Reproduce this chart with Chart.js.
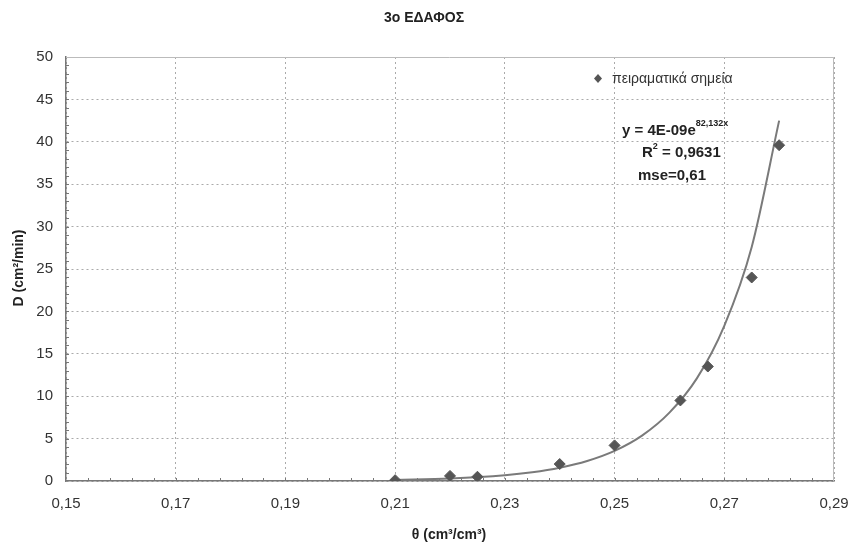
<!DOCTYPE html>
<html>
<head>
<meta charset="utf-8">
<script src="https://cdn.jsdelivr.net/npm/chart.js@4/dist/chart.umd.min.js"></script>
<style>
  html, body { margin: 0; background: #fff; }
</style>
</head>
<body>
<canvas id="ch" width="850" height="544"></canvas>
<script>
// measured points (θ, D)
const thetaPts = [0.21, 0.22, 0.225, 0.24, 0.25, 0.262, 0.267, 0.275, 0.28];
const dPts = [0.1, 0.6, 0.5, 2.0, 4.2, 9.5, 13.5, 24.0, 39.6];

// trend curve
const thetaFit = [0.21, 0.22, 0.23, 0.235, 0.24, 0.245, 0.25, 0.255, 0.26, 0.265, 0.27, 0.275, 0.28];
const dFit = [0.13, 0.3, 0.69, 1.04, 1.57, 2.36, 3.55, 5.35, 8.06, 12.1, 18.3, 27.6, 42.5];

const xTickLabels = ['0,15', '0,17', '0,19', '0,21', '0,23', '0,25', '0,27', '0,29'];
const yTickLabels = ['0', '5', '10', '15', '20', '25', '30', '35', '40', '45', '50'];

const FONT = "'Liberation Sans', Arial, sans-serif";
const TXT = '#333';

const overlay = {
  id: 'overlay',
  beforeDatasetsDraw(chart) {
    const { ctx, chartArea: a, scales: { x, y } } = chart;
    ctx.save();
    // light frame top/right
    ctx.strokeStyle = '#bbb';
    ctx.lineWidth = 1;
    ctx.beginPath();
    ctx.moveTo(a.left, a.top + 0.5);
    ctx.lineTo(a.right - 0.5, a.top + 0.5);
    ctx.lineTo(a.right - 0.5, a.bottom);
    ctx.stroke();
    // minor ticks, inward
    ctx.strokeStyle = '#777';
    ctx.beginPath();
    for (let k = 1; k < 50; k++) {
      const py = Math.round(y.getPixelForValue(k)) + 0.5;
      ctx.moveTo(a.left, py);
      ctx.lineTo(a.left + 3, py);
    }
    for (let k = 1; k < 35; k++) {
      const px = Math.round(x.getPixelForValue(0.15 + k * 0.004)) + 0.5;
      ctx.moveTo(px, a.bottom);
      ctx.lineTo(px, a.bottom - 3);
    }
    ctx.stroke();
    ctx.restore();
  },
  afterDraw(chart) {
    const { ctx } = chart;
    ctx.save();
    ctx.fillStyle = '#222';
    ctx.textBaseline = 'middle';

    // title
    ctx.textAlign = 'center';
    ctx.font = `bold 14px ${FONT}`;
    ctx.fillText('3o ΕΔΑΦΟΣ', 424, 18);

    // axis titles
    ctx.font = `bold 14px ${FONT}`;
    ctx.fillText('θ (cm³/cm³)', 449, 535);
    ctx.save();
    ctx.translate(19, 268);
    ctx.rotate(-Math.PI / 2);
    ctx.fillText('D (cm²/min)', 0, 0);
    ctx.restore();

    // legend
    ctx.fillStyle = '#555';
    ctx.beginPath();
    ctx.moveTo(598, 74); ctx.lineTo(602, 78.5); ctx.lineTo(598, 83); ctx.lineTo(594, 78.5);
    ctx.closePath();
    ctx.fill();
    ctx.fillStyle = TXT;
    ctx.textAlign = 'left';
    ctx.font = `14px ${FONT}`;
    ctx.fillText('πειραματικά σημεία', 612, 79);

    // equation block
    ctx.fillStyle = '#222';
    ctx.font = `bold 15px ${FONT}`;
    ctx.fillText('y = 4E-09e', 622, 131);
    let w = ctx.measureText('y = 4E-09e').width;
    ctx.font = `bold 9px ${FONT}`;
    ctx.fillText('82,132x', 622 + w, 124);
    ctx.font = `bold 15px ${FONT}`;
    ctx.fillText('R', 642, 153);
    w = ctx.measureText('R').width;
    ctx.font = `bold 9px ${FONT}`;
    ctx.fillText('2', 642 + w, 147);
    ctx.font = `bold 15px ${FONT}`;
    ctx.fillText(' = 0,9631', 642 + w + 5, 153);
    ctx.fillText('mse=0,61', 638, 176);
    ctx.restore();
  }
};

new Chart(document.getElementById('ch'), {
  type: 'scatter',
  data: {
    datasets: [
      {
        label: 'πειραματικά σημεία',
        data: thetaPts.map((t, i) => ({ x: t, y: dPts[i] })),
        pointStyle: 'rectRot',
        pointRadius: 5.5,
        backgroundColor: '#555',
        borderColor: '#555',
        order: 0
      },
      {
        label: 'fit',
        data: thetaFit.map((t, i) => ({ x: t, y: dFit[i] })),
        showLine: true,
        pointRadius: 0,
        borderColor: '#7a7a7a',
        borderWidth: 2,
        cubicInterpolationMode: 'monotone',
        order: 1
      }
    ]
  },
  plugins: [overlay],
  options: {
    responsive: false,
    animation: false,
    layout: { padding: { top: 57, right: 16, left: 0, bottom: 0 } },
    plugins: { legend: { display: false }, tooltip: { enabled: false } },
    scales: {
      x: {
        type: 'linear',
        min: 0.15,
        max: 0.29,
        afterFit: s => { s.height = 63; s.paddingLeft = 0; s.paddingRight = 0; },
        afterBuildTicks: s => { s.ticks = xTickLabels.map((_, i) => ({ value: 0.15 + i * 0.02 })); },
        ticks: {
          callback: (v, i) => xTickLabels[i],
          color: TXT,
          font: { family: FONT, size: 15 },
          padding: 14,
          maxRotation: 0,
          autoSkip: false
        },
        grid: { color: '#aaa', drawTicks: false, lineWidth: 1 },
        border: { color: '#777', width: 1.5, dash: [2, 3] }
      },
      y: {
        min: 0,
        max: 50,
        afterFit: s => { s.width = 66; s.paddingTop = 0; s.paddingBottom = 0; },
        afterBuildTicks: s => { s.ticks = yTickLabels.map((_, i) => ({ value: i * 5 })); },
        ticks: {
          callback: (v, i) => yTickLabels[i],
          color: TXT,
          font: { family: FONT, size: 15 },
          padding: 13
        },
        grid: { color: '#aaa', drawTicks: false, lineWidth: 1 },
        border: { color: '#777', width: 1.5, dash: [2, 3] }
      }
    }
  }
});
</script>
</body>
</html>
